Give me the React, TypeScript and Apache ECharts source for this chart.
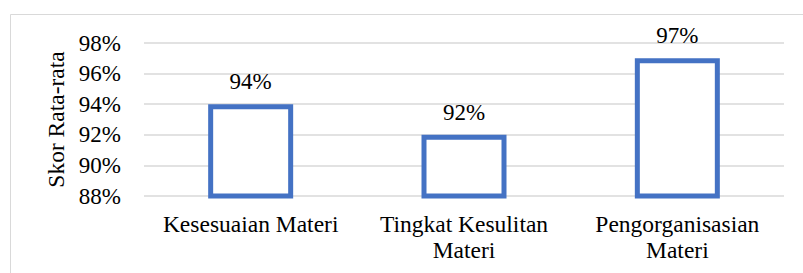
import React, { useEffect, useRef } from "react";
import * as echarts from "echarts";

const categories = ["Kesesuaian Materi", "Tingkat Kesulitan\nMateri", "Pengorganisasian\nMateri"];
const values = [94, 92, 97];
const yTicks = { min: 88, max: 98, interval: 2 };
const yTitle = "Skor Rata-rata";

const FONT = "Liberation Serif";

export default function App() {
  const ref = useRef<HTMLDivElement>(null);
  useEffect(() => {
    if (!ref.current) return;
    const chart = echarts.init(ref.current, null, { renderer: "svg" });
    chart.setOption({
      animation: false,
      backgroundColor: "#fff",
      textStyle: { fontFamily: FONT },
      graphic: [
        {
          type: "rect",
          shape: { x: 10.5, y: 14.5, width: 800, height: 270 },
          style: { fill: "none", stroke: "#d9d9d9", lineWidth: 1 },
          silent: true,
        },
      ],
      grid: { left: 144, right: 19, top: 43, bottom: 77 },
      xAxis: {
        type: "category",
        data: categories,
        axisLine: { show: false },
        axisTick: { show: false },
        axisLabel: {
          fontFamily: FONT,
          fontSize: 23.5,
          color: "#000",
          lineHeight: 26,
          margin: 15,
          interval: 0,
        },
      },
      yAxis: {
        type: "value",
        min: yTicks.min,
        max: yTicks.max,
        interval: yTicks.interval,
        name: yTitle,
        nameLocation: "middle",
        nameRotate: 90,
        nameGap: 76,
        nameTextStyle: { fontFamily: FONT, fontSize: 23.5, color: "#000" },
        axisLine: { show: false },
        axisTick: { show: false },
        axisLabel: {
          fontFamily: FONT,
          fontSize: 23,
          color: "#000",
          margin: 23,
          formatter: "{value}%",
        },
        splitLine: { lineStyle: { color: "#d9d9d9", width: 1.5 } },
      },
      series: [
        {
          type: "bar",
          data: values,
          barWidth: 85,
          itemStyle: { color: "#fff", borderColor: "#4472C4", borderWidth: 5 },
          label: {
            show: true,
            position: "top",
            distance: 11,
            formatter: "{c}%",
            fontFamily: FONT,
            fontSize: 23,
            color: "#000",
          },
        },
      ],
    });
    return () => chart.dispose();
  }, []);
  return (
    <div
      ref={ref}
      style={{ position: "fixed", left: 0, top: 0, width: 803, height: 273 }}
    />
  );
}
